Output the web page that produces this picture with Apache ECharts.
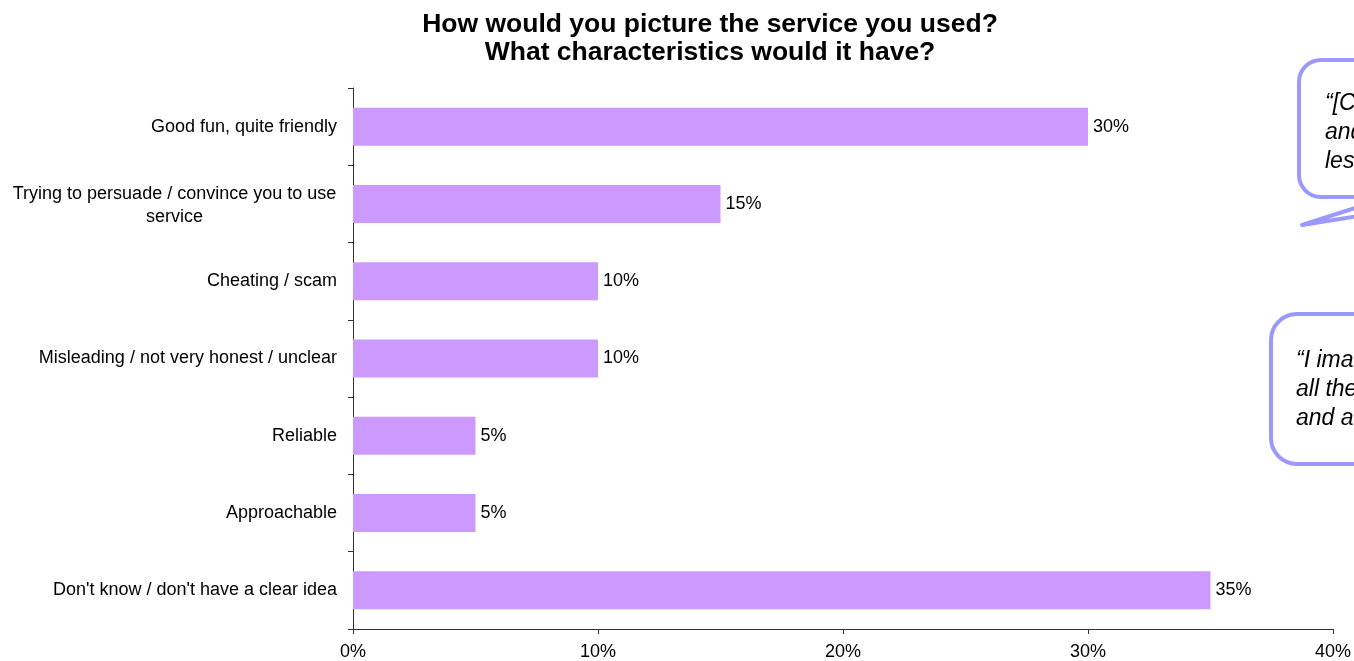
<!DOCTYPE html>
<html>
<head>
<meta charset="utf-8">
<script src="https://cdn.jsdelivr.net/npm/echarts@6/dist/echarts.min.js"></script>
<style>html,body{margin:0;padding:0;background:#fff;}#chart{width:1354px;height:661px;}</style>
</head>
<body>
<div id="chart"></div>
<script>
const categories = [
  "Good fun, quite friendly",
  "Trying to persuade / convince you to use\nservice",
  "Cheating / scam",
  "Misleading / not very honest / unclear",
  "Reliable",
  "Approachable",
  "Don't know / don't have a clear idea"
];
const values = [30, 15, 10, 10, 5, 5, 35];
const xTicks = { min: 0, max: 40, interval: 10 };
const titleLines = ["How would you picture the service you used?", "What characteristics would it have?"];
const quote1 = ["\u201C[C", "and", "les"];
const quote2 = ["\u201CI ima", "all the", "and a"];

const FONT = "'Liberation Sans', Arial, sans-serif";
const chart = echarts.init(document.getElementById('chart'));

function bubbleTexts(lines, x, y0, step) {
  return lines.map((t, i) => ({
    type: 'text', x: x, y: y0 + i * step, z: 20,
    style: { text: t, font: 'italic 23px ' + FONT, fill: '#000', verticalAlign: 'middle', align: 'left' }
  }));
}

chart.setOption({
  animation: false,
  backgroundColor: '#fff',
  title: {
    text: titleLines.join('\n'),
    left: 705, top: 6, textAlign: 'center',
    textStyle: { fontFamily: FONT, fontWeight: 'bold', fontSize: 26.5, lineHeight: 28, color: '#000' }
  },
  grid: { left: 353, right: 19, top: 88, bottom: 32, containLabel: false },
  xAxis: {
    type: 'value', min: xTicks.min, max: xTicks.max, interval: xTicks.interval,
    axisLine: { show: true, lineStyle: { color: '#333', width: 1 } },
    axisTick: { show: true, length: 5, lineStyle: { color: '#333' } },
    splitLine: { show: false },
    axisLabel: { formatter: '{value}%', fontFamily: FONT, fontSize: 18, color: '#000', margin: 14 }
  },
  yAxis: {
    type: 'category', data: categories, inverse: true,
    axisLine: { show: true, lineStyle: { color: '#333', width: 1 } },
    axisTick: { show: true, length: 5, lineStyle: { color: '#333' } },
    axisLabel: {
      fontFamily: FONT, fontSize: 18, color: '#000', margin: 16, lineHeight: 23,
      formatter: v => v.indexOf('\n') >= 0 ? '{w|' + v + '}' : v,
      rich: { w: { width: 325, align: 'center', fontFamily: FONT, fontSize: 18, lineHeight: 23, color: '#000', padding: [4, 0, 0, 0] } }
    },
  },
  series: [{
    type: 'bar', data: values, barWidth: 38,
    itemStyle: { color: '#CC99FF' },
    label: { show: true, position: 'right', distance: 5, formatter: '{c}%', fontFamily: FONT, fontSize: 18, color: '#000' }
  }],
  graphic: [
    { type: 'polygon', z: 10, shape: { points: [[1302, 225], [1390, 197], [1480, 197]] },
      style: { fill: '#fff', stroke: '#9999FF', lineWidth: 4, lineJoin: 'round' } },
    { type: 'rect', z: 11, shape: { x: 1299, y: 60, width: 220, height: 137, r: 22 },
      style: { fill: '#fff', stroke: '#9999FF', lineWidth: 4 } },
    ...bubbleTexts(quote1, 1325, 104, 29),
    { type: 'rect', z: 11, shape: { x: 1271, y: 314, width: 240, height: 150, r: 26 },
      style: { fill: '#fff', stroke: '#9999FF', lineWidth: 4 } },
    ...bubbleTexts(quote2, 1296, 361, 29)
  ]
});
</script>
</body>
</html>
